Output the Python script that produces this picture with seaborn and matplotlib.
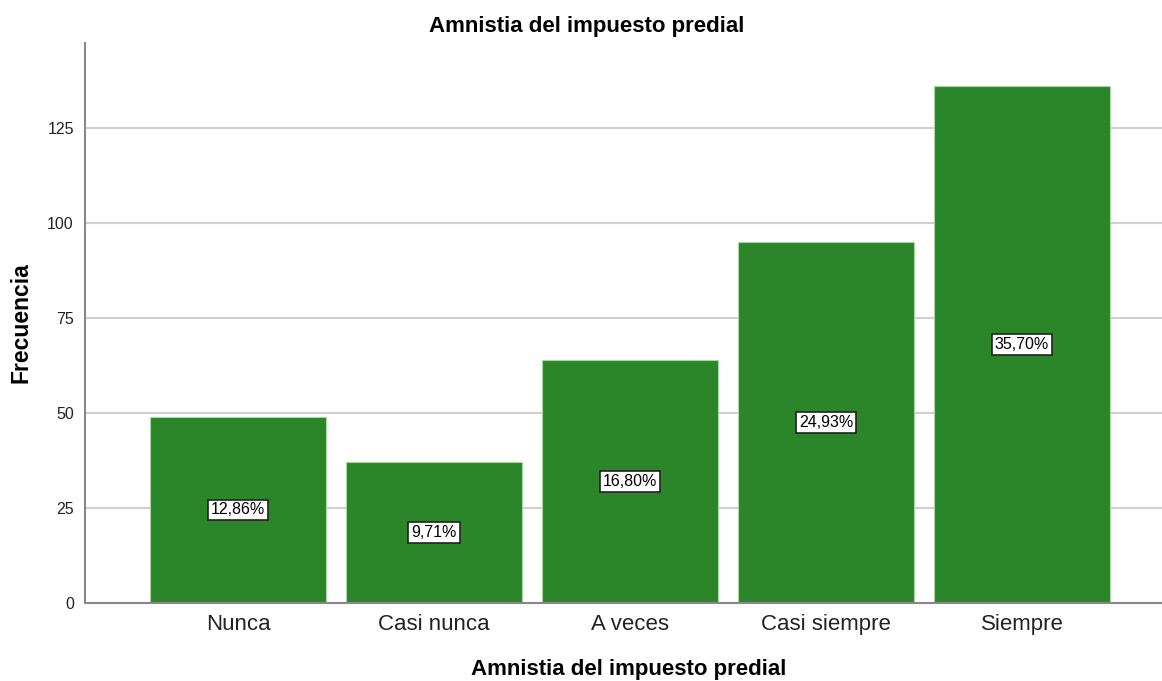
import pandas as pd
import matplotlib.pyplot as plt
import seaborn as sns

# Data
categorias = ['Nunca', 'Casi nunca', 'A veces', 'Casi siempre', 'Siempre']
frecuencias = [49, 37, 64, 95, 136]
porcentajes = ['12,86%', '9,71%', '16,80%', '24,93%', '35,70%']

df = pd.DataFrame({'categoria': categorias, 'frecuencia': frecuencias})

sns.set_style('white')
plt.rcParams['font.family'] = ['Liberation Sans', 'DejaVu Sans']

fig = plt.figure(figsize=(11.62, 6.81), dpi=100)
ax = fig.add_axes([0.0731, 0.1145, 0.9269, 0.8224])

sns.barplot(data=df, x='categoria', y='frecuencia', color='#2a8629',
            saturation=1, width=0.898, edgecolor='#a8d8a0', linewidth=0.8, ax=ax)

# Gridlines behind bars
ax.set_axisbelow(True)
ax.yaxis.grid(True, color='#d0d0d0', linewidth=1.5)
ax.xaxis.grid(False)

# Percent labels in the middle of each bar
for i, (v, p) in enumerate(zip(frecuencias, porcentajes)):
    ax.text(i, v / 2, p, ha='center', va='center', fontsize=11.5, color='black',
            bbox=dict(boxstyle='square,pad=0.18', facecolor='white',
                      edgecolor='#222222', linewidth=1.2))

ax.set_xlim(-0.781, 4.714)
ax.set_ylim(0, 147.4)
ax.set_yticks([0, 25, 50, 75, 100, 125])

for side in ['top', 'right']:
    ax.spines[side].set_visible(False)
for side in ['left', 'bottom']:
    ax.spines[side].set_color('#888888')
    ax.spines[side].set_linewidth(1.5)

ax.tick_params(axis='y', labelsize=11.5, length=5, color='#888888', width=1.2, pad=3)
ax.tick_params(axis='x', labelsize=16, length=0, pad=8)
for lbl in ax.get_xticklabels() + ax.get_yticklabels():
    lbl.set_color('#222222')

ax.set_title('Amnistia del impuesto predial', fontsize=16, fontweight='bold',
             color='black', x=0.466, pad=8)
ax.set_xlabel('Amnistia del impuesto predial', fontsize=16, fontweight='bold',
              color='black')
ax.xaxis.label.set_va('center')
ax.xaxis.set_label_coords(0.505, -0.118)
ax.set_ylabel('Frecuencia', fontsize=16.5, fontweight='bold', color='black')
ax.yaxis.set_label_coords(-0.049, 0.5)

fig.savefig('out.png', dpi=100)
